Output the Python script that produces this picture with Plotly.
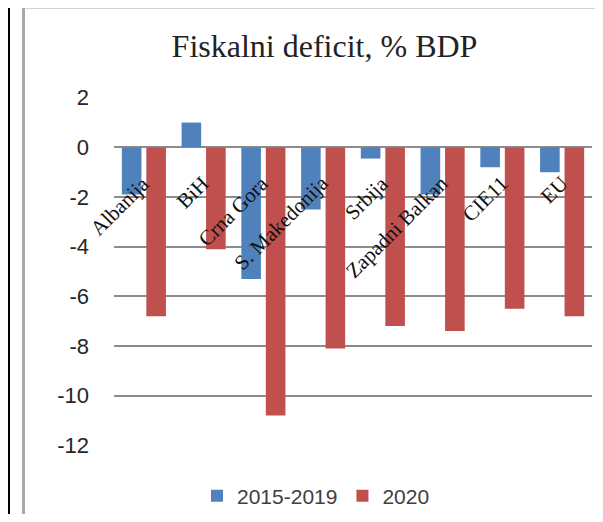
import plotly.graph_objects as go

categories = ["Albanija", "BiH", "Crna Gora", "S. Makedonija", "Srbija",
              "Zapadni Balkan", "CIE11", "EU"]
series_names = ["2015-2019", "2020"]
values_2015_2019 = [-1.9, 1.0, -5.3, -2.5, -0.45, -1.9, -0.8, -1.0]
values_2020 = [-6.8, -4.1, -10.8, -8.1, -7.2, -7.4, -6.5, -6.8]
y_ticks = [2, 0, -2, -4, -6, -8, -10, -12]
title_text = "Fiskalni deficit, % BDP"

# the page body has an 8px margin, so work in page coordinates and subtract it
OFF = 8
W, H = 587, 506
L = 114 - OFF
R = W - (592 - OFF)
T = 97 - OFF
B = H - (446 - OFF)
pw, ph = W - L - R, H - T - B

def px(x):
    return (x - OFF - L) / pw

def py(y):
    return (H - B - (y - OFF)) / ph

fig = go.Figure()
fig.add_trace(go.Bar(x=categories, y=values_2015_2019, name=series_names[0],
                     marker=dict(color="#4F81BD", line=dict(width=0))))
fig.add_trace(go.Bar(x=categories, y=values_2020, name=series_names[1],
                     marker=dict(color="#C0504D", line=dict(width=0))))

for c in categories:
    fig.add_annotation(x=c, y=0, xref="x", yref="y", text=c, showarrow=False,
                       textangle=-45, xanchor="right", yanchor="top",
                       xshift=13, yshift=-21,
                       font=dict(family="Liberation Serif", size=21, color="#111111"))

shapes = [
    dict(type="line", x0=px(8.5), x1=px(8.5), y0=py(4), y1=py(530), line=dict(color="black", width=3)),
    dict(type="line", x0=px(7), x1=px(620), y0=py(5), y1=py(5), line=dict(color="black", width=2)),
    dict(type="line", x0=px(23.5), x1=px(23.5), y0=py(7), y1=py(530), line=dict(color="#a8a8a8", width=3)),
    dict(type="line", x0=px(22), x1=px(620), y0=py(7.5), y1=py(7.5), line=dict(color="#a8a8a8", width=2)),
]
for s in shapes:
    s.update(xref="paper", yref="paper", layer="above")
fig.update_layout(shapes=shapes)

fig.update_layout(
    width=W, height=H,
    margin=dict(l=L, r=R, t=T, b=B, pad=0, autoexpand=False),
    paper_bgcolor="white", plot_bgcolor="white",
    barmode="group", bargap=0.18, bargroupgap=0.2,
    title=dict(text=title_text, x=(324.5 - OFF) / W, xanchor="center", xref="container",
               y=1 - (46 - OFF) / H, yanchor="middle",
               font=dict(family="Liberation Serif", size=32, color="#222222")),
    showlegend=True,
    legend=dict(orientation="h", x=px(316), xanchor="center", y=py(496), yanchor="middle",
                font=dict(family="Liberation Sans", size=21, color="#404040"),
                itemwidth=30, tracegroupgap=0, bgcolor="rgba(0,0,0,0)"),
    font=dict(family="Liberation Sans"),
)
fig.update_xaxes(range=[-0.5, len(categories) - 0.5], showticklabels=False, showgrid=False,
                 zeroline=False, showline=False, ticks="")
fig.update_yaxes(range=[-12.03, 2.03], tickvals=y_ticks, ticktext=[str(v) for v in y_ticks],
                 showgrid=True, gridcolor="#8c8c8c", gridwidth=1.5,
                 zeroline=True, zerolinecolor="#8c8c8c", zerolinewidth=1.5,
                 showline=False, ticks="", ticklabelstandoff=24,
                 tickfont=dict(family="Liberation Sans", size=22, color="#262626"))

fig.write_html("out.html")
